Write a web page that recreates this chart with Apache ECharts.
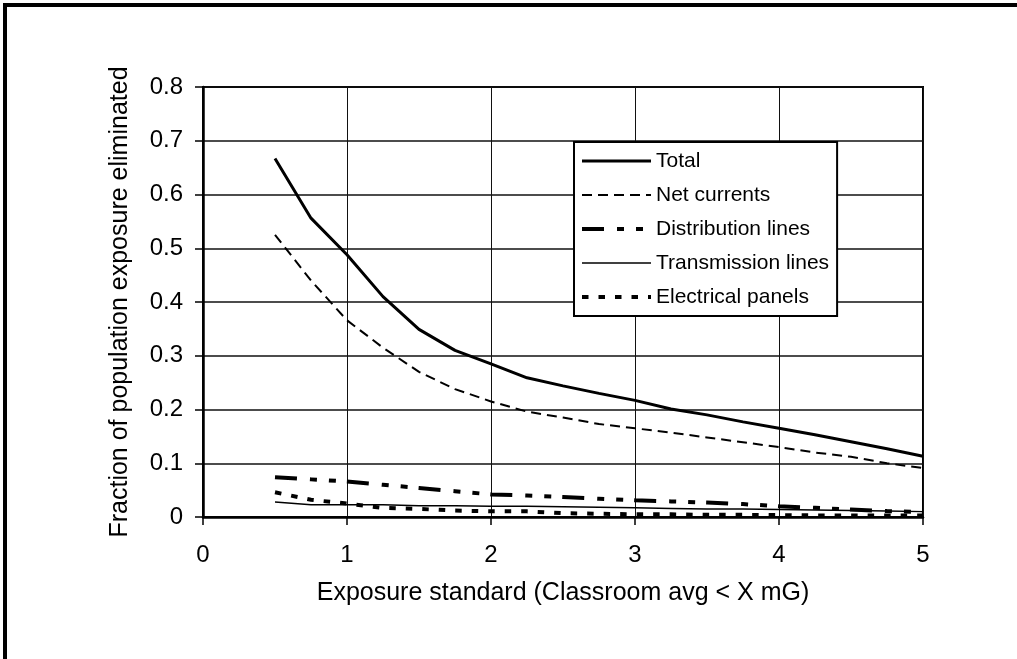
<!DOCTYPE html>
<html>
<head>
<meta charset="utf-8">
<script src="https://cdn.jsdelivr.net/npm/echarts@6/dist/echarts.min.js"></script>
<style>
html,body{margin:0;padding:0;background:#fff;}
#c{width:1017px;height:659px;}
</style>
</head>
<body>
<div id="c"></div>
<script>
var xValues = [0.5, 0.75, 1.0, 1.25, 1.5, 1.75, 2.0, 2.25, 2.5, 2.75, 3.0, 3.25, 3.5, 3.75, 4.0, 4.25, 4.5, 4.75, 5.0];
var total        = [0.667, 0.556, 0.488, 0.41, 0.349, 0.31, 0.285, 0.259, 0.244, 0.23, 0.217, 0.201, 0.19, 0.177, 0.165, 0.153, 0.14, 0.127, 0.113];
var netCurrents  = [0.525, 0.44, 0.366, 0.315, 0.27, 0.238, 0.215, 0.196, 0.185, 0.173, 0.165, 0.157, 0.148, 0.139, 0.13, 0.12, 0.112, 0.1, 0.091];
var distribution = [0.074, 0.07, 0.066, 0.06, 0.054, 0.048, 0.042, 0.04, 0.037, 0.034, 0.031, 0.029, 0.027, 0.024, 0.02, 0.017, 0.014, 0.011, 0.009];
var transmission = [0.028, 0.023, 0.023, 0.023, 0.021, 0.021, 0.02, 0.02, 0.019, 0.018, 0.017, 0.016, 0.015, 0.015, 0.014, 0.013, 0.012, 0.011, 0.010];
var panels       = [0.046, 0.032, 0.025, 0.017, 0.015, 0.012, 0.0105, 0.0105, 0.007, 0.006, 0.005, 0.005, 0.004, 0.004, 0.0035, 0.003, 0.003, 0.003, 0.003];
var seriesNames = ['Total', 'Net currents', 'Distribution lines', 'Transmission lines', 'Electrical panels'];
var xTitle = 'Exposure standard (Classroom avg < X mG)';
var yTitle = 'Fraction of population exposure eliminated';

function pairs(ys) { return xValues.map(function (x, i) { return [x, ys[i]]; }); }

var FONT = '"Liberation Sans", Arial, sans-serif';
var chart = echarts.init(document.getElementById('c'), null, {renderer: 'canvas'});
var lineStyles = [
  {width: 3, type: 'solid'},
  {width: 2, type: [10, 6]},
  {width: 4, type: [22, 13, 7, 12, 7, 11]},
  {width: 1.5, type: 'solid'},
  {width: 4, type: [6.5, 10]}
];
var dataSets = [total, netCurrents, distribution, transmission, panels];

chart.setOption({
  animation: false,
  backgroundColor: '#fff',
  textStyle: {fontFamily: FONT, color: '#000'},
  graphic: [{
    type: 'rect', silent: true, z: -1,
    shape: {x: 5, y: 5, width: 1200, height: 1000},
    style: {fill: 'none', stroke: '#000', lineWidth: 4}
  }],
  grid: {left: 203, right: 94, top: 87, bottom: 142, show: true, borderColor: '#000', borderWidth: 2, backgroundColor: 'transparent'},
  legend: {
    orient: 'vertical', left: 574, top: 142,
    padding: [7, 8, 7, 6],
    backgroundColor: '#fff', borderColor: '#000', borderWidth: 2,
    itemWidth: 69, itemHeight: 14, itemGap: 10,
    itemStyle: {opacity: 0, borderWidth: 0},
    lineStyle: {width: 'inherit', type: 'inherit', color: '#000'},
    textStyle: {fontFamily: FONT, fontSize: 21, color: '#000', lineHeight: 24},
    data: seriesNames
  },
  xAxis: {
    type: 'value', min: 0, max: 5, interval: 1,
    name: xTitle, nameLocation: 'middle', nameGap: 64,
    nameTextStyle: {fontFamily: FONT, fontSize: 25, color: '#000'},
    axisLine: {onZero: false, lineStyle: {color: '#000', width: 2.5}},
    axisTick: {show: true, inside: false, length: 8, lineStyle: {color: '#000', width: 1.5}},
    axisLabel: {fontFamily: FONT, fontSize: 24, color: '#000', margin: 26},
    splitLine: {show: true, lineStyle: {color: '#111', width: 1}}
  },
  yAxis: {
    type: 'value', min: 0, max: 0.8, interval: 0.1,
    name: yTitle, nameLocation: 'middle', nameGap: 70, nameRotate: 90,
    nameTextStyle: {fontFamily: FONT, fontSize: 25, color: '#000'},
    axisLine: {show: true, lineStyle: {color: '#000', width: 2.5}},
    axisTick: {show: true, inside: false, length: 8, lineStyle: {color: '#000', width: 1.5}},
    axisLabel: {fontFamily: FONT, fontSize: 24, color: '#000', margin: 20,
      formatter: function (v) { return String(Math.round(v * 10) / 10); }},
    splitLine: {show: true, lineStyle: {color: '#111', width: 1.5}}
  },
  series: seriesNames.map(function (n, i) {
    return {
      name: n, type: 'line', symbol: 'none', smooth: false,
      color: '#000',
      itemStyle: {color: '#000', opacity: 0},
      lineStyle: {color: '#000', opacity: 1, width: lineStyles[i].width, type: lineStyles[i].type},
      data: pairs(dataSets[i]),
      z: 3
    };
  })
});
</script>
</body>
</html>
